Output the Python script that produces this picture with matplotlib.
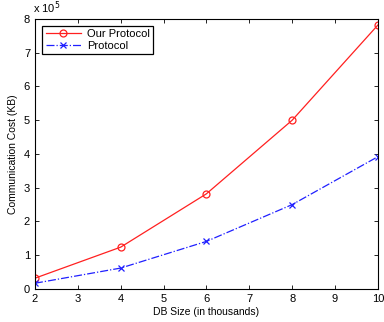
import matplotlib
matplotlib.use("Agg")
import matplotlib.pyplot as plt

plt.rcParams['font.family'] = ['Liberation Sans', 'DejaVu Sans']

db_size = [2, 4, 6, 8, 10]
our_protocol = [0.32e5, 1.24e5, 2.82e5, 5.0e5, 7.82e5]
protocol = [0.17e5, 0.62e5, 1.41e5, 2.5e5, 3.92e5]

fig = plt.figure(figsize=(3.84, 3.22), dpi=100)
ax = fig.add_axes([0.091, 0.1025, 0.893, 0.8385])

ax.plot(db_size, our_protocol, color='#ff2020', lw=0.9, marker='o', ms=5,
        mfc='none', mew=0.9, label='Our Protocol')
ax.plot(db_size, protocol, color='#2020ff', lw=0.9, ls='-.', marker='x', ms=4,
        mew=0.9, label='Protocol')

ax.set_xlim(2, 10)
ax.set_ylim(0, 8e5)
ax.set_xticks(range(2, 11))
ax.set_yticks([i * 1e5 for i in range(9)])
ax.set_yticklabels([str(i) for i in range(9)])
ax.text(-0.005, 1.01, r'x 10$^5$', transform=ax.transAxes, fontsize=8, va='bottom')

ax.tick_params(direction='in', top=True, right=True, labelsize=8, length=3, width=0.6)
for s in ax.spines.values():
    s.set_linewidth(0.8)

ax.set_xlabel('DB Size (in thousands)', fontsize=7.5, labelpad=2)
ax.set_ylabel('Communication Cost (KB)', fontsize=7.5, labelpad=4)

leg = ax.legend(loc='upper left', fontsize=8, fancybox=False, framealpha=1,
                edgecolor='black', borderpad=0.3, labelspacing=0.15,
                handlelength=3.2, handletextpad=0.5, bbox_to_anchor=(0.005, 0.995))
leg.get_frame().set_linewidth(0.9)

fig.savefig('out.png', dpi=100)
